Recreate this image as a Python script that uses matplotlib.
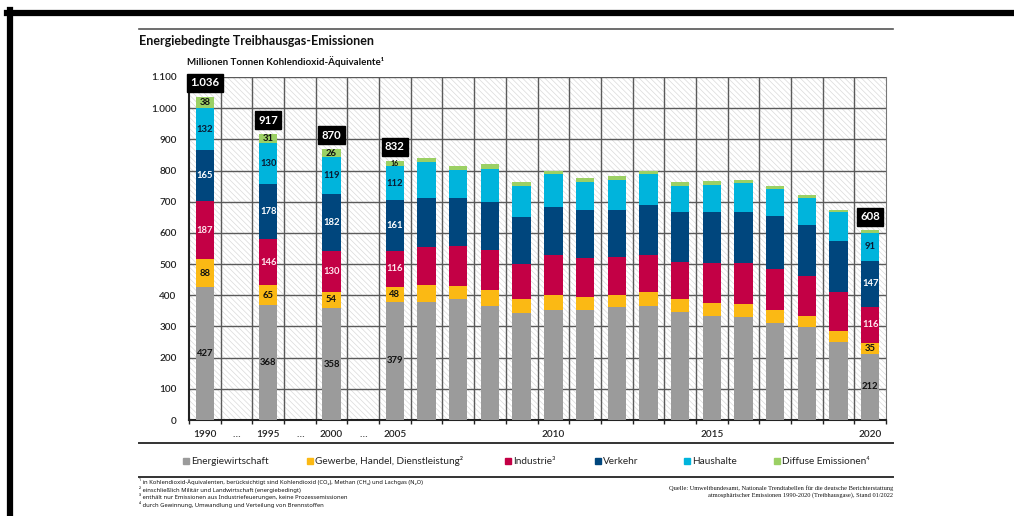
import matplotlib
matplotlib.use("Agg")
import matplotlib.pyplot as plt
from matplotlib.patches import Rectangle
from matplotlib.lines import Line2D
import numpy as np

# ---------------- data ----------------
columns = ["1990", "…", "1995", "…", "2000", "…", "2005", "2006", "2007", "2008", "2009",
           "2010", "2011", "2012", "2013", "2014", "2015", "2016", "2017", "2018", "2019", "2020"]
tick_labels = ["1990", "…", "1995", "…", "2000", "…", "2005", "", "", "", "",
               "2010", "", "", "", "", "2015", "", "", "", "", "2020"]
years = [1990, 1995, 2000, 2005, 2006, 2007, 2008, 2009, 2010, 2011, 2012, 2013,
         2014, 2015, 2016, 2017, 2018, 2019, 2020]

series_names = ["Energiewirtschaft", "Gewerbe, Handel, Dienstleistung²", "Industrie³",
                "Verkehr", "Haushalte", "Diffuse Emissionen⁴"]
energie   = [427, 368, 358, 379, 380, 387, 367, 342, 354, 352, 361, 365, 345, 333, 331, 310, 298, 249, 212]
gewerbe   = [88, 65, 54, 48, 53, 42, 50, 45, 47, 43, 41, 45, 42, 43, 42, 42, 37, 37, 35]
industrie = [187, 146, 130, 116, 121, 130, 129, 112, 128, 123, 120, 119, 120, 128, 130, 132, 127, 125, 116]
verkehr   = [165, 178, 182, 161, 158, 153, 153, 152, 153, 155, 153, 159, 159, 163, 165, 169, 164, 164, 147]
haushalte = [132, 130, 119, 112, 114, 89, 107, 101, 106, 91, 96, 100, 85, 88, 91, 88, 85, 91, 91]
diffuse   = [38, 31, 26, 16, 15, 14, 14, 10, 12, 12, 12, 12, 11, 11, 10, 10, 10, 8, 7]
totals    = [1036, 917, 870, 832, None, None, None, None, None, None, None, None,
             None, None, None, None, None, None, 608]
labeled_years = [1990, 1995, 2000, 2005, 2020]
yticks = [0, 100, 200, 300, 400, 500, 600, 700, 800, 900, 1000, 1100]
ytick_labels = ["0", "100", "200", "300", "400", "500", "600", "700", "800", "900", "1.000", "1.100"]

colors = ["#9b9b9b", "#fbb914", "#c30045", "#00467d", "#00b4dc", "#9bd064"]
label_colors = ["#111111", "#111111", "#ffe6ee", "#ffffff", "#0a1a33", "#111111"]

FONT = ["Lato", "DejaVu Sans"]
plt.rcParams["font.family"] = FONT
plt.rcParams["hatch.color"] = "#dadada"
plt.rcParams["hatch.linewidth"] = 0.5

W, H = 1014, 516
fig = plt.figure(figsize=(W / 100, H / 100), dpi=100)

def fx(px):
    return px / W

def fy(py):
    return 1 - py / H

ax = fig.add_axes([fx(189), fy(420), fx(886) - fx(189), fy(77) - fy(420)])

# x positions of bars from column slots
pos_map = {c: i + 0.5 for i, c in enumerate(columns) if c != "…"}
xpos = np.array([pos_map[str(y)] for y in years])

ax.set_xlim(0, len(columns))
ax.set_ylim(0, 1100)

# hatched background
ax.add_patch(Rectangle((0, 0), 1, 1, transform=ax.transAxes, facecolor="white",
                       edgecolor="#dadada", hatch="\\\\\\\\\\\\", lw=0, zorder=0))

# grid
for yv in yticks[1:]:
    ax.axhline(yv, color="#5a5a5a", lw=1.0, zorder=1)
for xv in range(1, len(columns)):
    ax.axvline(xv, color="#5a5a5a", lw=1.0, zorder=1)

data = [energie, gewerbe, industrie, verkehr, haushalte, diffuse]
bottom = np.zeros(len(years))
bw = 0.58
for vals, col, lc in zip(data, colors, label_colors):
    vals = np.array(vals, dtype=float)
    ax.bar(xpos, vals, bw, bottom=bottom, color=col, edgecolor="none", zorder=3)
    for x, y, b, v in zip(xpos, years, bottom, vals):
        if y in labeled_years and not (col == colors[5] and v < 10):
            fs = 5.0 if (col == colors[5] and v < 20) else 6.8
            ax.text(x, b + v / 2, f"{int(v)}", ha="center", va="center", color=lc,
                    fontsize=fs, fontweight="bold", zorder=5)
    bottom += vals

for x, t, top in zip(xpos, totals, bottom):
    if t is not None:
        ax.text(x, top + 44, f"{t:,}".replace(",", "."), ha="center", va="center",
                color="white", fontsize=8.2, fontweight="bold", zorder=6,
                bbox=dict(boxstyle="square,pad=0.3", fc="black", ec="black"))

ax.set_yticks(yticks)
ax.set_yticklabels(ytick_labels)
ax.set_xticks(range(0, len(columns) + 1))
ax.set_xticklabels([])
ax.set_xticks(np.arange(len(columns)) + 0.5, minor=True)
ax.set_xticklabels(tick_labels, minor=True)
ax.tick_params(axis="x", which="major", length=3, width=1, color="#222222", direction="out")
ax.tick_params(axis="x", which="minor", length=0, pad=7, labelsize=7.2, labelcolor="#222222")
ax.tick_params(axis="y", length=0, pad=9, labelsize=7.2, labelcolor="#222222")
for lbl in ax.get_xticklabels(minor=True) + ax.get_yticklabels():
    lbl.set_fontweight("semibold")
ax.spines["top"].set_visible(False)
ax.spines["right"].set_color("#777777")
ax.spines["left"].set_color("#222222")
ax.spines["left"].set_linewidth(1.5)
ax.spines["bottom"].set_color("#222222")
ax.spines["bottom"].set_linewidth(1.5)

# title etc
fig.text(fx(139), fy(41), "Energiebedingte Treibhausgas-Emissionen", fontsize=9,
         fontweight="bold", ha="left", va="center", color="#111111")
fig.text(fx(187), fy(62), "Millionen Tonnen Kohlendioxid-Äquivalente¹", fontsize=7,
         fontweight="bold", ha="left", va="center", color="#111111")

# decoration lines
for yy, lw, c in [(29, 1.2, "#555555"), (443, 1.4, "#333333"), (477, 1.4, "#333333")]:
    fig.add_artist(Line2D([fx(139), fx(893)], [fy(yy), fy(yy)], color=c, lw=lw))
# black frame
fig.add_artist(Line2D([fx(7), 1], [fy(12.5), fy(12.5)], color="black", lw=4.5))
fig.add_artist(Line2D([fx(9.5), fx(9.5)], [fy(10), 0], color="black", lw=4.5))

# legend
legend_x = [183, 307, 505, 595, 684, 774]
for lx, name, col in zip(legend_x, series_names, colors):
    fig.add_artist(Rectangle((fx(lx), fy(464)), fx(6), 6 / H, color=col))
    fig.text(fx(lx + 8), fy(461), name, fontsize=7.2, ha="left", va="center", color="#222222")

footnotes = [
    "¹ in Kohlendioxid-Äquivalenten, berücksichtigt sind Kohlendioxid (CO₂), Methan (CH₄) und Lachgas (N₂O)",
    "² einschließlich Militär und Landwirtschaft (energiebedingt)",
    "³ enthält nur Emissionen aus Industriefeuerungen, keine Prozessemissionen",
    "⁴ durch Gewinnung, Umwandlung und Verteilung von Brennstoffen",
]
for i, t in enumerate(footnotes):
    fig.text(fx(139), fy(482 + i * 7.4), t, fontsize=4.2, ha="left", va="center",
             color="#111111", family=["Noto Sans", "DejaVu Sans"])

source = ["Quelle: Umweltbundesamt, Nationale Trendtabellen für die deutsche Berichterstattung",
          "atmosphärischer Emissionen 1990-2020 (Treibhausgase), Stand 01/2022"]
for i, t in enumerate(source):
    fig.text(fx(893), fy(488 + i * 7.5), t, fontsize=4.6, ha="right", va="center",
             color="#111111", family=["Liberation Serif", "DejaVu Serif"])

fig.savefig("out.png", dpi=100)
